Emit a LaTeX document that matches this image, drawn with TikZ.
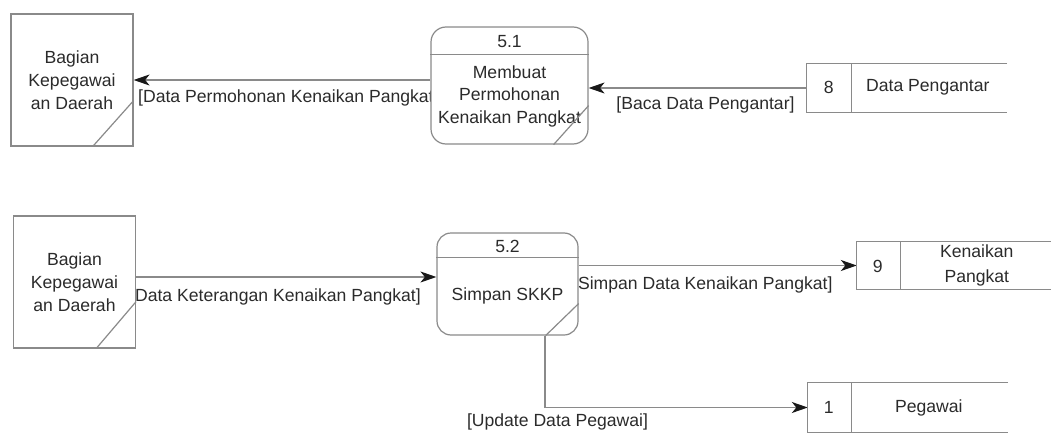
\documentclass[tikz,border=0pt]{standalone}
\usepackage{fontspec}
\setmainfont{Liberation Sans}
\usetikzlibrary{arrows.meta,calc}
\pgfdeclarelayer{back}
\pgfsetlayers{back,main}
\definecolor{edge}{HTML}{8A8A8A}
\definecolor{ink}{HTML}{2B2B2B}

\begin{document}
\begin{tikzpicture}[x=1pt,y=-1pt,
  every node/.style={font=\fontsize{17.6}{22.8}\selectfont, text=ink},
  border/.style={draw=edge, line width=1.2pt},
  entity/.style={border, fill=white, minimum width=122pt, minimum height=132pt,
    inner sep=0pt, align=center},
  proc/.style={border, fill=white, rounded corners=15pt, inner sep=0pt},
  store/.style={inner sep=0pt},
  txt/.style={align=center, inner sep=0pt},
  lbl/.style={inner sep=0pt},
  flow/.style={border, -{Stealth[length=16pt,width=11pt,inset=4.5pt,color=black!90]}}]

\useasboundingbox (0,0) rectangle (1051,433);

% external entities
\node[entity] (e1) at (72,80) {Bagian\\Kepegawai\\an Daerah};
\draw[border] ($(e1.south east)+(-41,0)$) -- ($(e1.south east)+(0,-46)$);
\node[entity] (e2) at (74.5,282) {Bagian\\Kepegawai\\an Daerah};
\draw[border] ($(e2.south east)+(-40,0)$) -- ($(e2.south east)+(0,-47)$);

% process 5.1
\node[proc, minimum width=157pt, minimum height=117pt] (p1) at (509.5,85.5) {};
\draw[border] ($(p1.north west)+(0,28)$) -- ($(p1.north east)+(0,28)$);
\node[txt] (p1n) at ($(p1.north)+(0,15)$) {5.1};
\node[txt] (p1t) at ($(p1.north)+(0,70)$) {Membuat\\Permohonan\\Kenaikan Pangkat};
\draw[border] ($(p1.south east)+(-35,0)$) -- ($(p1.south east)+(0,-39)$);

% process 5.2
\node[proc, rounded corners=14pt, minimum width=141pt, minimum height=102pt] (p2) at (507.5,284) {};
\draw[border] ($(p2.north west)+(0,25)$) -- ($(p2.north east)+(0,25)$);
\node[txt] (p2n) at ($(p2.north)+(0,14)$) {5.2};
\node[txt] (p2t) at ($(p2.north)+(0,64)$) {Simpan SKKP};
\draw[border] ($(p2.south east)+(-33,0)$) -- ($(p2.south east)+(0,-32)$);

% data stores (open on the right)
\node[store, minimum width=200pt, minimum height=48pt] (s8) at (907,88) {};
\draw[border] (s8.north east) -- (s8.north west) -- (s8.south west) -- (s8.south east);
\draw[border] ($(s8.north west)+(45,0)$) -- ($(s8.south west)+(45,0)$);
\node[txt] (s8n) at ($(s8.west)+(22,-1)$) {8};
\node[txt] (s8t) at ($(s8.west)+(121,-1)$) {Data Pengantar};

\node[store, minimum width=194pt, minimum height=47pt] (s9) at (954,265.5) {};
\draw[border] (s9.north east) -- (s9.north west) -- (s9.south west) -- (s9.south east);
\draw[border] ($(s9.north west)+(44,0)$) -- ($(s9.south west)+(44,0)$);
\node[txt] (s9n) at ($(s9.west)+(21,1)$) {9};
\node[txt, font=\fontsize{17.6}{25}\selectfont] (s9t) at ($(s9.west)+(120,0)$) {Kenaikan\\Pangkat};

\node[store, minimum width=200pt, minimum height=49pt] (s1) at (908,407.5) {};
\draw[border] (s1.north east) -- (s1.north west) -- (s1.south west) -- (s1.south east);
\draw[border] ($(s1.north west)+(44,0)$) -- ($(s1.south west)+(44,0)$);
\node[txt] (s1n) at ($(s1.west)+(21,0)$) {1};
\node[txt] (s1t) at ($(s1.west)+(121,0)$) {Pegawai};

% data flows and their labels, kept behind the boxes
\begin{pgfonlayer}{back}
  \draw[flow] (e1.east -| p1.west) -- (e1.east);
  \node[lbl, anchor=west] (f1) at (138,98) {[Data Permohonan Kenaikan Pangkat]};

  \draw[flow] (s8.west) -- (s8.west -| p1.east);
  \node[lbl] (f2) at (705.5,105) {[Baca Data Pengantar]};

  \draw[flow] ([yshift=5pt]e2.east) -- ([yshift=5pt]e2.east -| p2.west);
  \node[lbl, anchor=east] (f3) at (421,297) {[Data Keterangan Kenaikan Pangkat]};

  \draw[flow] (s9.west -| p2.east) -- (s9.west);
  \node[lbl, anchor=west] (f4) at (573,285) {[Simpan Data Kenaikan Pangkat]};

  \draw[flow] ([xshift=37.5pt]p2.south) |- (s1.west);
  \node[lbl] (f5) at (557.5,422) {[Update Data Pegawai]};
\end{pgfonlayer}
\end{tikzpicture}
\end{document}
